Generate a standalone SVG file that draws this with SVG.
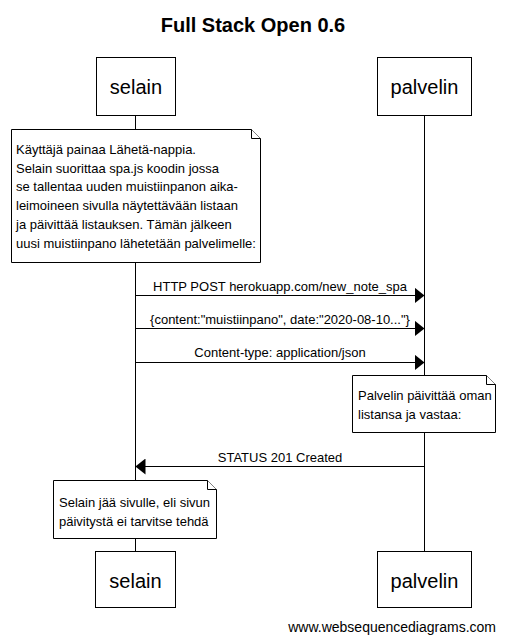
<svg xmlns="http://www.w3.org/2000/svg" width="506" height="643" viewBox="0 0 506 643">
<style>
text{font-family:"Liberation Sans",Arial,sans-serif;fill:#000}
.title{font-size:20px;font-weight:bold}
.part{font-size:20px}
.lbl{font-size:13px}
.box{fill:#fff;stroke:#000;stroke-width:1}
.life{stroke:#000;stroke-width:1;fill:none}
.msg{stroke:#000;stroke-width:1;fill:none}
.note{fill:#fff;stroke:#000;stroke-width:1}
</style>
<defs>
<marker id="ah" markerWidth="10" markerHeight="16" refX="10" refY="8" orient="auto" markerUnits="userSpaceOnUse">
<path d="M0,0 L10,8 L0,16 Z" fill="#000"/>
</marker>
</defs>
<rect width="506" height="643" fill="#fff"/>
<text class="title" x="253" y="32" text-anchor="middle">Full Stack Open 0.6</text>
<g id="lifelines">
<line class="life" x1="135.5" y1="115" x2="135.5" y2="551"/>
<line class="life" x1="424.5" y1="115" x2="424.5" y2="551"/>
</g>
<g id="selain-top"><rect class="box" x="96.5" y="57.5" width="79" height="58"/><text class="part" x="136" y="94" text-anchor="middle">selain</text></g>
<g id="palvelin-top"><rect class="box" x="377.5" y="57.5" width="94" height="58"/><text class="part" x="424.5" y="94" text-anchor="middle">palvelin</text></g>
<g id="note1">
<path class="note" d="M11.5,129.5 H251.5 L260.5,138.5 V262.5 H11.5 Z"/>
<path class="note" d="M251.5,129.5 V138.5 H260.5" fill="none"/>
<text class="lbl" x="16" y="154">Käyttäjä painaa Lähetä-nappia.</text>
<text class="lbl" x="16" y="173">Selain suorittaa spa.js koodin jossa</text>
<text class="lbl" x="16" y="191">se tallentaa uuden muistiinpanon aika-</text>
<text class="lbl" x="16" y="210">leimoineen sivulla näytettävään listaan</text>
<text class="lbl" x="16" y="229">ja päivittää listauksen. Tämän jälkeen</text>
<text class="lbl" x="16" y="248">uusi muistiinpano lähetetään palvelimelle:</text>
</g>
<g id="connectors">
<line class="msg" x1="135.5" y1="295.5" x2="424.5" y2="295.5" marker-end="url(#ah)"/>
<text class="lbl" x="280" y="291" text-anchor="middle">HTTP POST herokuapp.com/new_note_spa</text>
<line class="msg" x1="135.5" y1="328.5" x2="424.5" y2="328.5" marker-end="url(#ah)"/>
<text class="lbl" x="280" y="324" text-anchor="middle">{content:"muistiinpano", date:"2020-08-10..."}</text>
<line class="msg" x1="135.5" y1="362.5" x2="424.5" y2="362.5" marker-end="url(#ah)"/>
<text class="lbl" x="280" y="357" text-anchor="middle">Content-type: application/json</text>
<line class="msg" x1="424.5" y1="466.5" x2="135.5" y2="466.5" marker-end="url(#ah)"/>
<text class="lbl" x="280" y="462" text-anchor="middle">STATUS 201 Created</text>
</g>
<g id="note2">
<path class="note" d="M352.5,375.5 H486.5 L495.5,384.5 V432.5 H352.5 Z"/>
<path class="note" d="M486.5,375.5 V384.5 H495.5" fill="none"/>
<text class="lbl" x="358" y="400">Palvelin päivittää oman</text>
<text class="lbl" x="358" y="419">listansa ja vastaa:</text>
</g>
<g id="note3">
<path class="note" d="M53.5,480.5 H207.5 L216.5,489.5 V538.5 H53.5 Z"/>
<path class="note" d="M207.5,480.5 V489.5 H216.5" fill="none"/>
<text class="lbl" x="59" y="507">Selain jää sivulle, eli sivun</text>
<text class="lbl" x="59" y="526">päivitystä ei tarvitse tehdä</text>
</g>
<g id="selain-bottom"><rect class="box" x="95.5" y="551.5" width="80" height="56"/><text class="part" x="135.5" y="588" text-anchor="middle">selain</text></g>
<g id="palvelin-bottom"><rect class="box" x="377.5" y="551.5" width="94" height="56"/><text class="part" x="424.5" y="588" text-anchor="middle">palvelin</text></g>
<text x="496" y="632" text-anchor="end" style="font-size:14px">www.websequencediagrams.com</text>
</svg>
